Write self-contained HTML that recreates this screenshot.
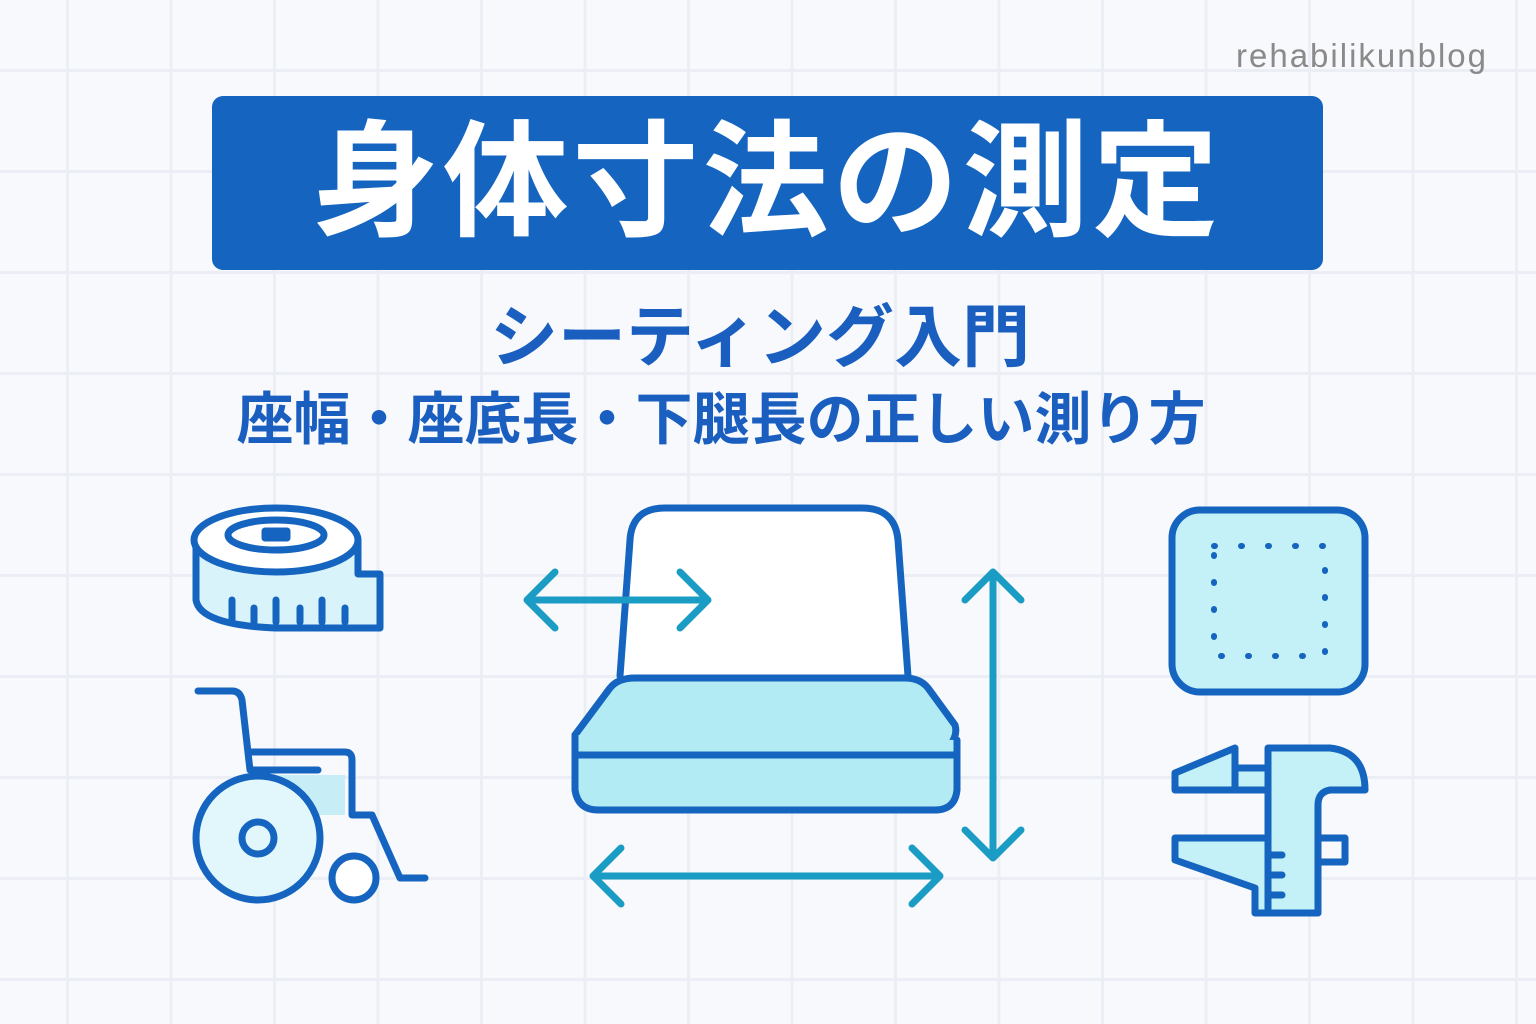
<!DOCTYPE html>
<html><head><meta charset="utf-8"><style>
html,body{margin:0;padding:0}
body{width:1536px;height:1024px;position:relative;overflow:hidden;background-color:#f8f9fc;
background-image:linear-gradient(to right,#eceef5 3px,transparent 3px),linear-gradient(to bottom,#eceef5 3px,transparent 3px);
background-size:103.5px 101px;background-position:66px 69px;font-family:"Liberation Sans","Noto Sans CJK JP",sans-serif}
.wm{position:absolute;left:1236px;top:37px;font-size:33px;color:#8a8a8a;letter-spacing:2px}
.title{position:absolute;left:212px;top:96px;width:1111px;height:174px;background:#1565c0;border-radius:11px;color:#fff;font-weight:bold;font-size:126px;line-height:174px;text-align:center;letter-spacing:4px}
.s1,.s2{position:absolute;left:0;width:1536px;text-align:center;color:#1a5fc0;font-weight:bold}
.s1{top:298px;font-size:68px;line-height:80px;left:-8px}
.s2{top:385px;font-size:57px;line-height:70px;left:-47px}
svg{position:absolute;left:0;top:0}
</style></head><body>
<div class="wm">rehabilikunblog</div>
<div class="title">身体寸法の測定</div>
<div class="s1">シーティング入門</div>
<div class="s2">座幅・座底長・下腿長の正しい測り方</div>
<svg width="1536" height="1024" fill="none" stroke="#1565c0" stroke-width="7" stroke-linejoin="round" stroke-linecap="round">
<path d="M196 540 V600 Q200 625 276 628 H380 V574 H358 V540" fill="#d8f3fa"/>
<ellipse cx="276" cy="540" rx="82" ry="32" fill="#fff"/>
<ellipse cx="276" cy="535" rx="48" ry="15" fill="#fff"/>
<rect x="265" y="531" width="22" height="7" fill="#1565c0"/>
<path d="M232 600 V620 M254 608 V622 M276 600 V622 M300 608 V622 M322 600 V622 M345 608 V622"/>
<path d="M198 691 H232 Q240 691 242 700 L250 770 H318"/>
<path d="M250 752 H345 Q352 752 352 760 V815 H372 L400 878 H425" />
<path d="M255 775 H345 V815 H290" fill="#c7eef7" stroke="none"/>
<circle cx="258" cy="838" r="62" fill="#e2f7fb"/>
<circle cx="258" cy="838" r="16"/>
<circle cx="354" cy="878" r="22" fill="#fff"/>
<path d="M620 676 L630 540 Q632 508 665 508 H862 Q895 508 898 540 L908 676" fill="#fff"/>
<path d="M575 735 L610 688 Q618 678 635 678 H905 Q920 678 928 688 L955 725 Q958 735 950 745 H590 Q575 745 575 735 Z" fill="#b3ebf5"/>
<path d="M575 735 V790 Q578 810 598 810 H935 Q955 810 957 790 V740" fill="#b3ebf5"/>
<path d="M578 755 H955"/>
<g stroke="#1a9cc4" stroke-width="7">
<path d="M527 600 H708 M555 572 L527 600 L555 628 M680 572 L708 600 L680 628"/>
<path d="M993 572 V858 M965 600 L993 572 L1021 600 M965 830 L993 858 L1021 830"/>
<path d="M593 876 H940 M621 848 L593 876 L621 904 M912 848 L940 876 L912 904"/>
</g>
<rect x="1172" y="510" width="193" height="182" rx="28" fill="#c4f0f7"/>
<g stroke-width="6" stroke-dasharray="1 26">
<path d="M1214 546 H1325 V656 H1214 Z"/>
</g>
<path d="M1268 748 H1330 Q1365 752 1365 790 H1330 Q1318 792 1318 805 V913 H1268 Z" fill="#c4f0f7"/>
<path d="M1175 773 L1235 748 V790 H1175 Z" fill="#c4f0f7"/>
<path d="M1235 768 H1268 V790 H1235 Z" fill="#c4f0f7"/>
<path d="M1175 838 H1268 V913 H1255 V888 L1175 860 Z" fill="#c4f0f7"/>
<path d="M1318 838 H1345 V862 H1318"/>
<path d="M1268 855 H1282 M1268 875 H1282 M1268 895 H1282"/>
</svg>
</body></html>
